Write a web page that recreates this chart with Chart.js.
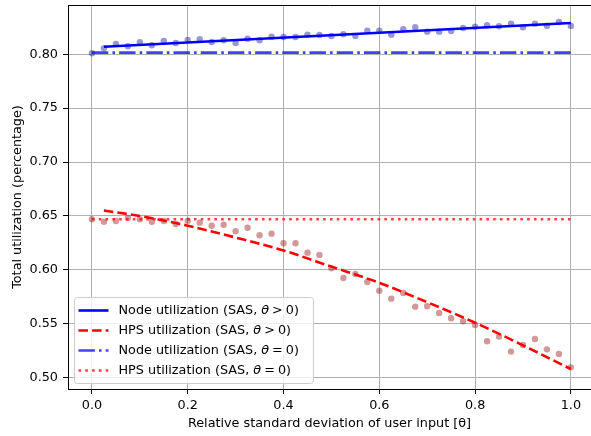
<!DOCTYPE html>
<html>
<head>
<meta charset="utf-8">
<script src="https://cdn.jsdelivr.net/npm/chart.js@4.4.0/dist/chart.umd.min.js"></script>
<style>
  html, body { margin: 0; padding: 0; background: #fff; overflow: hidden; }
  canvas { display: block; }
</style>
</head>
<body>
<canvas id="utilChart" width="591" height="436"></canvas>
<script>
// sampled theta values
const thetaValues = [0, 0.025, 0.05, 0.075, 0.1, 0.125, 0.15, 0.175, 0.2, 0.225,
  0.25, 0.275, 0.3, 0.325, 0.35, 0.375, 0.4, 0.425, 0.45, 0.475,
  0.5, 0.525, 0.55, 0.575, 0.6, 0.625, 0.65, 0.675, 0.7, 0.725,
  0.75, 0.775, 0.8, 0.825, 0.85, 0.875, 0.9, 0.925, 0.95, 0.975, 1.0];

const nodeSamples = [0.801, 0.8056, 0.8096, 0.8074, 0.8111, 0.8083, 0.8123, 0.8105, 0.8133, 0.8139,
  0.8114, 0.813, 0.8105, 0.8145, 0.813, 0.8163, 0.816, 0.816, 0.8182, 0.8179,
  0.817, 0.8185, 0.817, 0.8219, 0.8219, 0.8182, 0.8232, 0.825, 0.821, 0.821,
  0.8216, 0.8244, 0.8256, 0.8269, 0.826, 0.8284, 0.825, 0.8284, 0.8265, 0.83, 0.8263];

const hpsSamples = [0.647, 0.6447, 0.6454, 0.6482, 0.647, 0.6447, 0.6454, 0.6426, 0.6456, 0.6438,
  0.641, 0.6419, 0.6358, 0.6391, 0.6321, 0.6336, 0.6247, 0.6247, 0.616, 0.6138,
  0.6015, 0.5925, 0.5962, 0.5888, 0.5807, 0.5733, 0.5786, 0.5659, 0.5662, 0.56,
  0.5551, 0.5523, 0.5489, 0.5338, 0.5381, 0.5242, 0.5303, 0.5359, 0.5263, 0.522, 0.5096];

// fitted curves
const nodeFitX = [0.025, 1.0];
const nodeFitY = [0.807, 0.829];
const hpsFitX = [0.025, 0.1, 0.2, 0.3, 0.4, 0.5, 0.6, 0.7, 0.8, 0.9, 1.0];
const hpsFitY = [0.655, 0.650, 0.641, 0.630, 0.618, 0.603, 0.588, 0.570, 0.551, 0.530, 0.508];

// theta = 0 reference
const baseX = [0, 1.0];
const nodeBase = [0.8015, 0.8015];
const hpsBase = [0.647, 0.647];

const xTicks = [0, 0.2, 0.4, 0.6, 0.8, 1.0];
const yTicks = [0.50, 0.55, 0.60, 0.65, 0.70, 0.75, 0.80];

const legendLabels = [
  ['Node utilization (SAS, ', '>', '0)'],
  ['HPS utilization (SAS, ', '>', '0)'],
  ['Node utilization (SAS, ', '=', '0)'],
  ['HPS utilization (SAS, ', '=', '0)']
];

const FONT = '"DejaVu Sans", sans-serif';

function pts(xs, ys) {
  return xs.map((x, i) => ({ x: x, y: ys[i] }));
}

const lineSets = [
  { label: 'node fit', data: pts(nodeFitX, nodeFitY), borderColor: '#0000ff', borderWidth: 2.6, borderDash: [] },
  { label: 'hps fit', data: pts(hpsFitX, hpsFitY), borderColor: '#ff0000', borderWidth: 2.6, borderDash: [9.5, 4.1], cubicInterpolationMode: 'monotone' },
  { label: 'node base', data: pts(baseX, nodeBase), borderColor: 'rgba(0,0,255,0.75)', borderWidth: 2.6, borderDash: [16.4, 4.1, 2.6, 4.1] },
  { label: 'hps base', data: pts(baseX, hpsBase), borderColor: 'rgba(255,0,0,0.75)', borderWidth: 2.6, borderDash: [2.6, 4.2] }
];

const noHover = { pointHoverRadius: 0, pointHitRadius: 0, pointBorderWidth: 0, pointHoverBorderWidth: 0 };

const datasets = lineSets.map(d => Object.assign({
  type: 'line', showLine: true, pointRadius: 0, fill: false, order: 0, borderCapStyle: 'butt'
}, noHover, d));

datasets.push(Object.assign({
  type: 'scatter', label: 'node samples', data: pts(thetaValues, nodeSamples),
  backgroundColor: 'rgba(0,0,139,0.4)', pointRadius: 3.2, order: 1
}, noHover));
datasets.push(Object.assign({
  type: 'scatter', label: 'hps samples', data: pts(thetaValues, hpsSamples),
  backgroundColor: 'rgba(139,0,0,0.4)', pointRadius: 3.2, order: 1
}, noHover));

const framePlugin = {
  id: 'frame',
  afterDraw(chart) {
    const ctx = chart.ctx;
    const a = chart.chartArea;
    const ys = chart.scales.y;
    const W = chart.width;
    ctx.save();

    // the original has no right spine: blank the right edge, then restore the grid ends
    ctx.fillStyle = '#fff';
    ctx.fillRect(a.right - 3, a.top + 1, W - a.right + 3, a.bottom - a.top - 2);
    ctx.strokeStyle = '#b0b0b0';
    ctx.lineWidth = 1;
    yTicks.forEach(v => {
      const py = Math.round(ys.getPixelForValue(v) - 0.5) + 0.5;
      ctx.beginPath();
      ctx.moveTo(a.right - 4, py);
      ctx.lineTo(W, py);
      ctx.stroke();
    });

    // top spine
    ctx.strokeStyle = '#000';
    ctx.beginPath();
    ctx.moveTo(a.left, a.top + 0.5);
    ctx.lineTo(W, a.top + 0.5);
    ctx.stroke();

    // legend box
    const bx = a.left + 6.5, bw = 239, bh = 86;
    const by = a.bottom - 5.5 - bh;
    ctx.fillStyle = 'rgba(255,255,255,0.8)';
    ctx.strokeStyle = '#cccccc';
    ctx.beginPath();
    ctx.roundRect(bx, by, bw, bh, 3);
    ctx.fill();
    ctx.stroke();

    ctx.textBaseline = 'middle';
    legendLabels.forEach((parts, i) => {
      const ds = lineSets[i];
      const y = by + 13 + i * 20;
      ctx.strokeStyle = ds.borderColor;
      ctx.lineWidth = ds.borderWidth;
      ctx.setLineDash(ds.borderDash);
      ctx.lineCap = 'butt';
      ctx.beginPath();
      ctx.moveTo(bx + 4, y);
      ctx.lineTo(bx + 34, y);
      ctx.stroke();
      ctx.setLineDash([]);

      ctx.fillStyle = '#000';
      let x = bx + 44;
      ctx.font = '12.8px ' + FONT;
      ctx.fillText(parts[0], x, y);
      x += ctx.measureText(parts[0]).width;
      ctx.font = 'italic 12.8px ' + FONT;
      ctx.fillText('θ', x, y);
      x += ctx.measureText('θ').width + 3;
      ctx.font = '12.8px ' + FONT;
      ctx.fillText(parts[1], x, y);
      x += ctx.measureText(parts[1]).width + 3;
      ctx.fillText(parts[2], x, y);
    });
    ctx.restore();
  }
};

const gridColor = (ticks) => (c) => (c.tick && ticks.includes(c.tick.value) ? '#b0b0b0' : 'rgba(0,0,0,0)');

new Chart(document.getElementById('utilChart'), {
  type: 'scatter',
  data: { datasets: datasets },
  options: {
    responsive: false,
    animation: false,
    devicePixelRatio: 1,
    events: [],
    layout: { autoPadding: false, padding: { top: 5, left: 0, right: 0, bottom: 0 } },
    plugins: { legend: { display: false }, tooltip: { enabled: false } },
    scales: {
      x: {
        type: 'linear',
        min: -0.05,
        max: 1.042,
        afterBuildTicks: s => { s.ticks = xTicks.map(v => ({ value: v })); },
        afterFit: s => { s.height = 47; s.paddingLeft = 0; s.paddingRight = 0; },
        grid: { color: gridColor(xTicks), lineWidth: 1, tickColor: '#000', tickLength: 5 },
        border: { color: '#000', width: 1 },
        ticks: { color: '#000', padding: 4, font: { family: FONT, size: 12.8 }, maxRotation: 0,
          includeBounds: false, callback: v => v.toFixed(1) },
        title: { display: true, text: 'Relative standard deviation of user input [θ]', color: '#000',
          font: { family: FONT, size: 12.8 }, padding: { top: 0, bottom: 5 } }
      },
      y: {
        type: 'linear',
        min: 0.4895,
        max: 0.8457,
        afterBuildTicks: s => { s.ticks = yTicks.map(v => ({ value: v })); },
        afterFit: s => { s.width = 68; s.paddingTop = 0; s.paddingBottom = 0; },
        grid: { color: gridColor(yTicks), lineWidth: 1, tickColor: '#000', tickLength: 5 },
        border: { color: '#000', width: 1 },
        ticks: { color: '#000', padding: 5, font: { family: FONT, size: 12.8 },
          includeBounds: false, callback: v => v.toFixed(2) },
        title: { display: true, text: 'Total utilization (percentage)', color: '#000',
          font: { family: FONT, size: 12.8 }, padding: { top: 10, bottom: 0 } }
      }
    }
  },
  plugins: [framePlugin]
});
</script>
</body>
</html>
